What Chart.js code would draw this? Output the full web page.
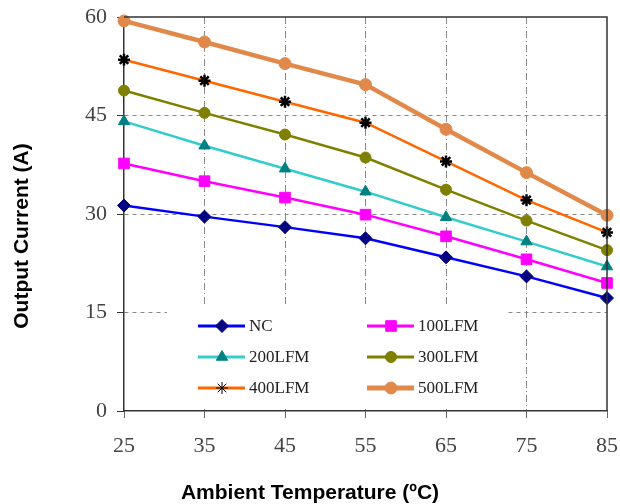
<!DOCTYPE html>
<html>
<head>
<meta charset="utf-8">
<script src="https://cdn.jsdelivr.net/npm/chart.js@4.4.1/dist/chart.umd.min.js"></script>
<style>
  html, body { margin: 0; padding: 0; background: #fff; }
  #wrap { width: 620px; height: 504px; }
</style>
</head>
<body>
<div id="wrap"><canvas id="chart" width="620" height="504"></canvas></div>
<script>
// x axis categories (ambient temperature, C)
const temps = [25, 35, 45, 55, 65, 75, 85];

// output current (A) for each airflow
const nc     = [31.3, 29.6, 28.0, 26.3, 23.4, 20.5, 17.2];
const lfm100 = [37.7, 35.0, 32.5, 29.9, 26.6, 23.1, 19.5];
const lfm200 = [44.1, 40.4, 36.9, 33.4, 29.5, 25.8, 22.0];
const lfm300 = [48.8, 45.4, 42.1, 38.6, 33.7, 29.0, 24.5];
const lfm400 = [53.5, 50.3, 47.1, 43.9, 38.0, 32.1, 27.2];
const lfm500 = [59.4, 56.2, 52.9, 49.7, 42.9, 36.3, 29.8];

// y axis ticks
const yTicks = [0, 15, 30, 45, 60];

const xTitle = 'Ambient Temperature (ºC)';
const yTitle = 'Output Current (A)';

const tickFont = { family: "'Liberation Serif', 'DejaVu Serif', serif", size: 22 };
const titleFont = "bold 21px 'Liberation Sans', Arial, sans-serif";

function series(label, data, line, mark, style, radius, width) {
  return {
    label: label,
    data: data,
    borderColor: line,
    backgroundColor: mark,
    pointBackgroundColor: mark,
    pointBorderColor: mark,
    pointStyle: style,
    pointRadius: radius,
    pointHoverRadius: radius,
    pointBorderWidth: style === 'star' ? 2.5 : 1,
    borderWidth: width,
    tension: 0,
    clip: false
  };
}

// plot frame (top and right edge) and the axis titles
const framePlugin = {
  id: 'frame',
  afterDatasetsDraw(chart) {
    const a = chart.chartArea;
    const c = chart.ctx;
    c.save();
    c.strokeStyle = '#333';
    c.lineWidth = 1.5;
    c.beginPath();
    c.moveTo(a.left, a.top);
    c.lineTo(a.right, a.top);
    c.lineTo(a.right, a.bottom);
    c.stroke();

    c.fillStyle = '#000';
    c.font = titleFont;
    c.textAlign = 'center';
    c.textBaseline = 'middle';
    c.fillText(xTitle, chart.width / 2, 493);
    c.translate(22, 236);
    c.rotate(-Math.PI / 2);
    c.fillText(yTitle, 0, 0);
    c.restore();
  }
};

// two column legend inside the plot, with white box behind it
const legendPlugin = {
  id: 'boxLegend',
  afterDraw(chart) {
    const c = chart.ctx;
    const a = chart.chartArea;
    const x0 = a.left + 43, y0 = 304;
    c.save();
    c.fillStyle = '#fff';
    c.fillRect(x0, y0, 338, 102);
    const cols = [a.left + 74, a.left + 243];
    const rows = [326, 357, 388];
    chart.data.datasets.forEach(function (ds, i) {
      const lx = cols[i % 2];
      const ly = rows[Math.floor(i / 2)];
      c.strokeStyle = ds.borderColor;
      c.lineWidth = ds.borderWidth + 0.5;
      c.beginPath();
      c.moveTo(lx, ly);
      c.lineTo(lx + 47, ly);
      c.stroke();
      const opts = {
        pointStyle: ds.pointStyle,
        radius: ds.pointRadius,
        rotation: 0,
        borderWidth: 1
      };
      c.fillStyle = ds.pointBackgroundColor;
      c.strokeStyle = ds.pointBorderColor;
      c.lineWidth = opts.borderWidth;
      Chart.helpers.drawPoint(c, opts, lx + 24, ly);
      c.fillStyle = '#222';
      c.font = "17px 'Liberation Serif', 'DejaVu Serif', serif";
      c.textBaseline = 'middle';
      c.textAlign = 'left';
      c.fillText(ds.label, lx + 51, ly + 1);
    });
    c.restore();
  }
};

const ctx = document.getElementById('chart').getContext('2d');
const myChart = new Chart(ctx, {
  type: 'line',
  data: {
    labels: temps,
    datasets: [
      series('NC', nc, '#0000FF', '#000080', 'rectRot', 6.5, 2.5),
      series('100LFM', lfm100, '#FF00FF', '#FF00FF', 'rect', 7.5, 2.5),
      series('200LFM', lfm200, '#33CCCC', '#008080', 'triangle', 6.5, 2.5),
      series('300LFM', lfm300, '#808000', '#808000', 'circle', 5.5, 2.5),
      series('400LFM', lfm400, '#FF6600', '#000000', 'star', 6, 2.5),
      series('500LFM', lfm500, '#E0894A', '#E0894A', 'circle', 6, 4.5)
    ]
  },
  options: {
    responsive: false,
    animation: false,
    layout: { padding: { top: 17, right: 13, left: 0, bottom: 0 } },
    plugins: {
      legend: { display: false },
      tooltip: { enabled: false }
    },
    scales: {
      x: {
        offset: false,
        grid: {
          color: function (c) {
            return (c.index === 0 || c.index === temps.length - 1) ? 'rgba(0,0,0,0)' : '#888';
          },
          lineWidth: 1,
          tickLength: 7,
          tickColor: '#333',
          tickBorderDash: [1, 0]
        },
        border: { color: '#333', width: 1.5, dash: [7, 3, 1, 3] },
        ticks: { font: tickFont, color: '#444', padding: 15, maxRotation: 0 },
        afterFit: function (scale) {
          scale.height = 93;
          scale.paddingLeft = 0;
          scale.paddingRight = 0;
        }
      },
      y: {
        min: 0,
        max: 60,
        afterBuildTicks: function (scale) {
          scale.ticks = yTicks.map(function (v) { return { value: v }; });
        },
        grid: {
          color: function (c) {
            return (c.tick.value === 0 || c.tick.value === 60) ? 'rgba(0,0,0,0)' : '#888';
          },
          lineWidth: 1,
          tickLength: 7,
          tickColor: '#333',
          tickBorderDash: [1, 0]
        },
        border: { color: '#333', width: 1.5, dash: [4, 4] },
        ticks: { font: tickFont, color: '#444', padding: 10 },
        afterFit: function (scale) {
          scale.width = 124;
          scale.paddingTop = 0;
          scale.paddingBottom = 0;
        }
      }
    }
  },
  plugins: [framePlugin, legendPlugin]
});
</script>
</body>
</html>
